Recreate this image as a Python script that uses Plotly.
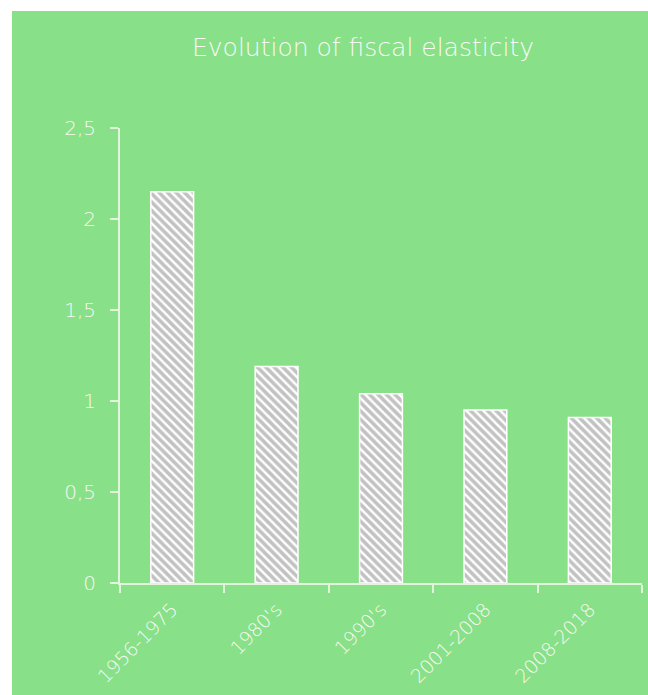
import plotly.graph_objects as go

categories = ["1956-1975", "1980's", "1990's", "2001-2008", "2008-2018"]
values = [2.15, 1.19, 1.04, 0.95, 0.91]
title_text = "Evolution of fiscal elasticity"

GREEN = "#88E088"
TXT = "#F8F9F6"
AX = "#E4F4DC"
FONT = "DejaVu Sans"

L, R, T, B = 120, 6, 128, 112
W, H = 648, 695
pw, ph = W - L - R, H - T - B

fig = go.Figure()
fig.add_trace(go.Bar(
    x=categories, y=values,
    marker=dict(
        color="white",
        line=dict(color="white", width=1.5),
        pattern=dict(shape="\\", fgcolor="#868686", bgcolor="white", size=6, solidity=0.6),
    ),
    showlegend=False,
))

fig.update_layout(
    width=W, height=H,
    margin=dict(l=L, r=R, t=T, b=B),
    paper_bgcolor="white",
    plot_bgcolor=GREEN,
    separators=", ",
    bargap=0.59,
    font=dict(family=FONT, color=TXT, size=20, weight=200),
    title=dict(text=title_text, x=363 / W, xref="container", xanchor="center",
               y=1 - 47 / H, yref="container", yanchor="middle",
               font=dict(size=25, color=TXT, family=FONT, weight=200)),
    shapes=[dict(type="rect", xref="paper", yref="paper",
                 x0=(12 - L) / pw, x1=(W - L + 2) / pw,
                 y0=-(B + 2) / ph, y1=(H - B - 11) / ph,
                 fillcolor=GREEN, line=dict(width=0), layer="below")],
)
fig.update_xaxes(
    showline=True, linecolor=AX, linewidth=2, automargin=False,
    ticks="outside", tickson="boundaries", ticklen=8, tickcolor=AX, tickwidth=2,
    tickangle=-45, tickfont=dict(size=19, color=TXT, family=FONT, weight=200),
    showgrid=False, ticklabelstandoff=6,
)
fig.update_yaxes(
    range=[0, 2.5], dtick=0.5, tick0=0, automargin=False,
    showline=True, linecolor=AX, linewidth=2,
    ticks="outside", ticklen=8, tickcolor=AX, tickwidth=2,
    tickfont=dict(size=20, color=TXT, family=FONT, weight=200),
    showgrid=False, zeroline=False, ticklabelstandoff=10,
)
fig.write_html("out.html")
